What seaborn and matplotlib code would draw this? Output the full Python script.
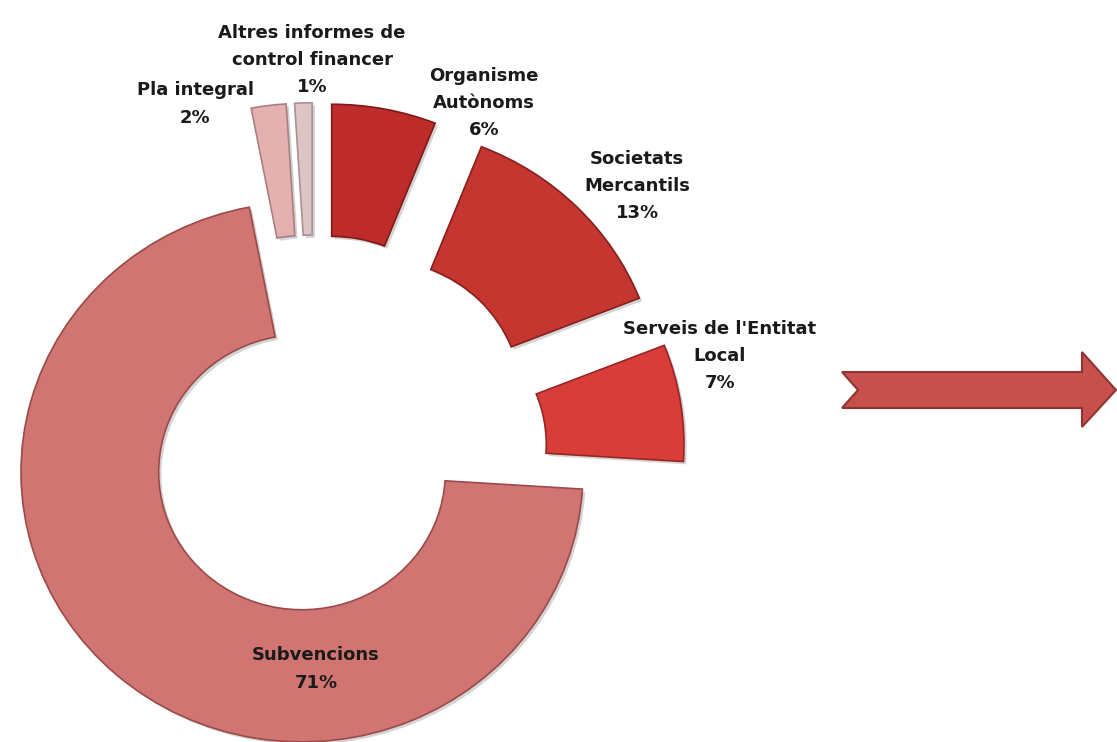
import matplotlib
matplotlib.use("Agg")
import matplotlib.pyplot as plt
import matplotlib.patheffects as pe
import seaborn as sns
from matplotlib.patches import Polygon

# ---- data ----
categories = ["Organisme\nAutònoms", "Societats\nMercantils", "Serveis de l'Entitat\nLocal",
              "Subvencions", "Pla integral", "Altres informes de\ncontrol financer"]
shares = [6, 13, 7, 71, 2, 1]
pct_labels = ["6%", "13%", "7%", "71%", "2%", "1%"]

colors = ["#BD2C2A", "#C63631", "#D93D39", "#D17573", "#E4B1B0", "#DEC4C4"]
edges = ["#7E1A19", "#85201D", "#962624", "#9A4A48", "#A98080", "#A99292"]
explode = [0.317, 0.317, 0.317, 0.07, 0.317, 0.317]

sns.set_theme(style="white")
plt.rcParams['font.family'] = ['DejaVu Sans']

W, H = 1117, 742
fig = plt.figure(figsize=(W / 100, H / 100), dpi=100)
ax = fig.add_axes([0, 0, 1, 1])

# pixel geometry of the donut centre / radius (layout only)
CX, CY, RX, YS = 315.0, 458.0, 281.0, 0.96
def P(px, py):
    return ((px - CX) / RX, (CY - py) / (RX * YS))

wedges, _ = ax.pie(shares, colors=colors, explode=explode, startangle=90,
                   counterclock=False, radius=1.0, frame=True,
                   wedgeprops=dict(width=0.49, linewidth=1.2))
for w, ec in zip(wedges, edges):
    w.set_edgecolor(ec)
    w.set_path_effects([pe.SimplePatchShadow(offset=(2, -2), shadow_rgbFace="#555555", alpha=0.25),
                        pe.Normal()])

ax.set_aspect('auto')
x0, y0 = P(0, H)
x1, y1 = P(W, 0)
ax.set_xlim(x0, x1)
ax.set_ylim(y0, y1)
ax.axis('off')

# labels (block centres in pixels)
label_pos = [(484, 103), (637, 186), (720, 356), (316, 669), (195, 104), (312, 60)]
for cat, pct, (px, py) in zip(categories, pct_labels, label_pos):
    tx, ty = P(px, py)
    ax.text(tx, ty, f"{cat}\n{pct}", ha="center", va="center", fontsize=13,
            fontweight="bold", color="#1a1a1a", linespacing=1.65)

# decorative notched arrow on the right
arrow_px = [(842, 372), (1082, 372), (1082, 352), (1116, 390), (1082, 427),
            (1082, 408), (842, 408), (858, 390)]
arrow = Polygon([P(a, b) for a, b in arrow_px], closed=True, facecolor="#C8504C",
                edgecolor="#8E3532", linewidth=1.5)
ax.add_patch(arrow)

fig.savefig("out.png", dpi=100, facecolor="white")
